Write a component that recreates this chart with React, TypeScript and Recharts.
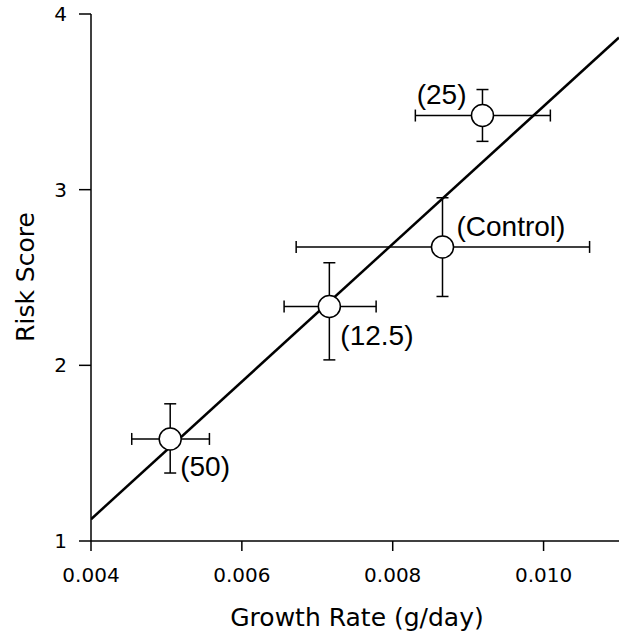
import React from 'react';
import { ScatterChart, Scatter, XAxis, YAxis, ErrorBar, Label } from 'recharts';

// ---- data ----
const pointLabels = ['(50)', '(12.5)', '(Control)', '(25)'];
const growthRate = [0.00505, 0.00716, 0.00866, 0.00919];
const growthLow = [0.00454, 0.00656, 0.00672, 0.0083];
const growthHigh = [0.00557, 0.00778, 0.01061, 0.01009];
const riskScore = [1.581, 2.335, 2.674, 3.422];
const riskLow = [1.387, 2.031, 2.392, 3.275];
const riskHigh = [1.781, 2.584, 2.954, 3.57];

const fitX = [0.004, 0.011];
const fitY = [1.124, 3.866];

const xTicks = [0.004, 0.006, 0.008, 0.01];
const yTicks = [1, 2, 3, 4];

const points = growthRate.map((x, i) => ({
  x,
  y: riskScore[i],
  label: pointLabels[i],
  ex: [x - growthLow[i], growthHigh[i] - x],
  ey: [riskScore[i] - riskLow[i], riskHigh[i] - riskScore[i]],
}));
const fitLine = fitX.map((x, i) => ({ x, y: fitY[i] }));

// label placement relative to marker (styling)
const labelPlace: Record<string, { dx: number; dy: number; anchor: string }> = {
  '(50)': { dx: 10, dy: 37, anchor: 'start' },
  '(12.5)': { dx: 11, dy: 39, anchor: 'start' },
  '(Control)': { dx: 14, dy: -11, anchor: 'start' },
  '(25)': { dx: -16, dy: -12, anchor: 'end' },
};

const TICK_FONT = 'DejaVu Sans, sans-serif';
const LABEL_FONT = 'Liberation Sans, Arial, sans-serif';

const PointShape = (props: any) => {
  const { cx, cy, payload } = props;
  const p = labelPlace[payload.label] || { dx: 10, dy: 0, anchor: 'start' };
  return (
    <g>
      <circle cx={cx} cy={cy} r={11} fill="#fff" stroke="#000" strokeWidth={1.5} />
      <text
        x={cx + p.dx}
        y={cy + p.dy}
        textAnchor={p.anchor as any}
        fontFamily={LABEL_FONT}
        fontSize={28}
        fill="#000"
      >
        {payload.label}
      </text>
    </g>
  );
};

export default function App() {
  return (
    <div style={{ position: 'absolute', left: 0, top: 0, background: '#fff' }}>
      <ScatterChart
        width={619}
        height={631}
        margin={{ top: 14, right: 0, bottom: 0, left: 0 }}
      >
        <XAxis
          type="number"
          dataKey="x"
          domain={[0.004, 0.011]}
          ticks={xTicks}
          tickFormatter={(v: number) => v.toFixed(3)}
          height={90}
          tickSize={10}
          tickMargin={17}
          allowDataOverflow
          stroke="#000"
          strokeWidth={1.5}
          tick={{ fill: '#000', fontSize: 20, fontFamily: TICK_FONT }}
        >
          <Label
            content={() => (
              <text
                x={357}
                y={626}
                textAnchor="middle"
                fontFamily={TICK_FONT}
                fontSize={25}
                fill="#000"
              >
                Growth Rate (g/day)
              </text>
            )}
          />
        </XAxis>
        <YAxis
          type="number"
          dataKey="y"
          domain={[1, 4]}
          ticks={yTicks}
          width={91}
          tickSize={12}
          tickMargin={12}
          allowDataOverflow
          stroke="#000"
          strokeWidth={1.5}
          tick={{ fill: '#000', fontSize: 20, fontFamily: TICK_FONT }}
        >
          <Label
            content={() => (
              <text
                x={34}
                y={277}
                transform="rotate(-90, 34, 277)"
                textAnchor="middle"
                fontFamily={TICK_FONT}
                fontSize={25}
                fill="#000"
              >
                Risk Score
              </text>
            )}
          />
        </YAxis>
        <Scatter
          data={fitLine}
          line={{ stroke: '#000', strokeWidth: 2.5 }}
          lineType="joint"
          shape={() => <g />}
          isAnimationActive={false}
        />
        <Scatter data={points} shape={PointShape} isAnimationActive={false}>
          <ErrorBar dataKey="ex" direction="x" width={6} stroke="#000" strokeWidth={1.5} />
          <ErrorBar dataKey="ey" direction="y" width={6} stroke="#000" strokeWidth={1.5} />
        </Scatter>
      </ScatterChart>
    </div>
  );
}
